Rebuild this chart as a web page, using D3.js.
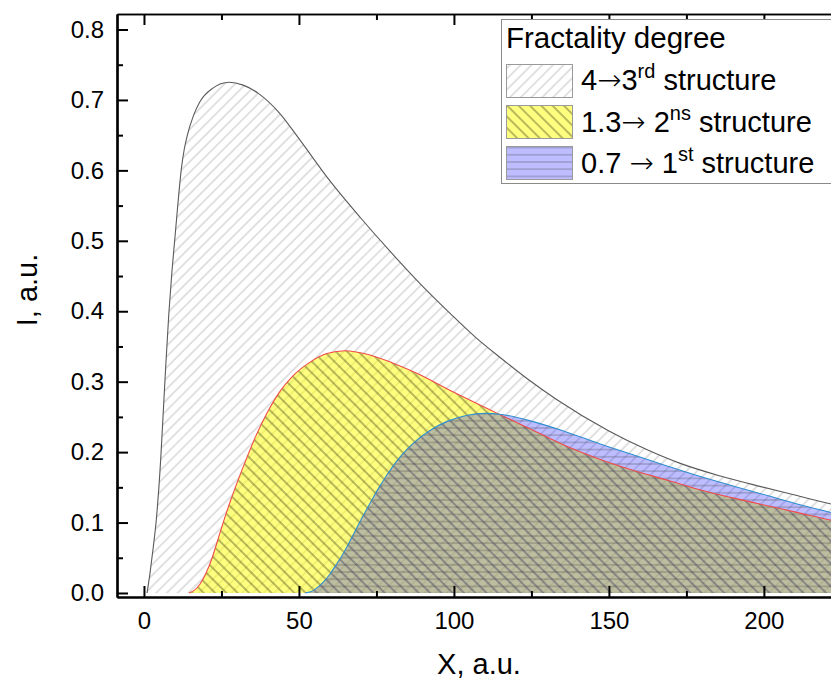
<!DOCTYPE html>
<html>
<head>
<meta charset="utf-8">
<script src="https://cdn.jsdelivr.net/npm/d3@7"></script>
<style>
body { margin: 0; background: #fff; }
text { font-family: "Liberation Sans", Arial, sans-serif; fill: #000; }
</style>
</head>
<body>
<div class="chart"></div>
<script>
// 4 -> 3rd structure
const x3rd = [1, 2, 3, 4, 5.4, 6.2, 7, 8, 9, 10, 11, 12, 13, 14, 16, 18, 22, 27.5, 32, 37, 44, 50, 60, 70, 79, 90, 99, 107, 115, 124, 133, 150, 162, 173, 186, 199, 210, 221, 226]
const y3rd = [0, 0.03, 0.065, 0.105, 0.19, 0.255, 0.32, 0.395, 0.455, 0.505, 0.555, 0.6, 0.63, 0.65, 0.678, 0.697, 0.716, 0.725, 0.721, 0.709, 0.68, 0.645, 0.585, 0.532, 0.487, 0.435, 0.396, 0.363, 0.334, 0.303, 0.275, 0.23, 0.204, 0.184, 0.166, 0.151, 0.139, 0.127, 0.122]
// 1.3 -> 2ns structure
const x2nd = [14.5, 16, 18, 20, 22, 24, 26, 28, 30, 33, 36, 40, 44, 48, 53, 59, 65, 72, 80, 88, 100, 114, 125, 136, 147, 158, 169, 179, 190, 199, 212, 221, 226]
const y2nd = [0, 0.003, 0.012, 0.028, 0.05, 0.078, 0.106, 0.132, 0.156, 0.19, 0.222, 0.258, 0.287, 0.308, 0.326, 0.34, 0.344, 0.339, 0.327, 0.312, 0.285, 0.255, 0.232, 0.209, 0.19, 0.174, 0.16, 0.147, 0.135, 0.126, 0.113, 0.104, 0.1]
// 0.7 -> 1st structure
const x1st = [52, 54, 56, 58, 60, 62, 64, 66, 68, 70, 72, 74, 76, 78, 80, 83, 87, 92, 98, 104, 110, 116, 125, 136, 147, 158, 169, 179, 190, 199, 212, 221, 226]
const y1st = [0, 0.002, 0.008, 0.016, 0.027, 0.04, 0.054, 0.07, 0.087, 0.104, 0.12, 0.136, 0.151, 0.165, 0.178, 0.195, 0.213, 0.23, 0.244, 0.252, 0.255, 0.253, 0.244, 0.229, 0.212, 0.196, 0.18, 0.166, 0.152, 0.141, 0.125, 0.115, 0.11]

const xTicks = [0, 50, 100, 150, 200]
const yTicks = [0, 0.1, 0.2, 0.3, 0.4, 0.5, 0.6, 0.7, 0.8]
const legendTitle = 'Fractality degree'
// [before arrow, arrow, after arrow, superscript, rest]
const legendLabels = [
    ['4', '\u2192', '3', 'rd', ' structure'],
    ['1.3', '\u2192', ' 2', 'ns', ' structure'],
    ['0.7 ', '\u2192', ' 1', 'st', ' structure']
]

const margin = ({top: 14, left: 117})
const width = 725
const height = 583

const svg = d3.select('.chart').append('svg')
    .attr('width', 831)
    .attr('height', 681)
    .style('display', 'block')

const defs = svg.append('defs')

function hatch(id, size, angle, bg, stroke, sw) {
    const p = defs.append('pattern')
        .attr('id', id)
        .attr('patternUnits', 'userSpaceOnUse')
        .attr('width', size)
        .attr('height', size)
        .attr('patternTransform', `rotate(${angle})`)
    p.append('rect').attr('width', size).attr('height', size).attr('fill', bg)
    p.append('line')
        .attr('x1', 0).attr('y1', size / 2).attr('x2', size).attr('y2', size / 2)
        .attr('stroke', stroke).attr('stroke-width', sw)
}
hatch('pat3', 7.6, -45, 'rgba(255,255,255,0)', '#c4c4c4', 1)
hatch('pat2', 8, 45, 'rgba(255,255,0,0.5)', 'rgba(0,0,0,0.55)', 1)
hatch('pat1', 7.2, 0, 'rgba(0,0,255,0.26)', 'rgba(60,60,60,0.42)', 1)

defs.append('clipPath').attr('id', 'clip')
    .append('rect').attr('width', width).attr('height', height)

const g = svg.append('g')
    .attr('transform', `translate(${margin.left},${margin.top})`)

const xScale = d3.scaleLinear().domain([-8.7, 225.2]).range([0, width])
const yScale = d3.scaleLinear().domain([-0.0057, 0.822]).range([height, 0])

const series = [
    {xs: x3rd, ys: y3rd, pat: 'pat3', line: '#5a5a5a'},
    {xs: x2nd, ys: y2nd, pat: 'pat2', line: '#f04a4a'},
    {xs: x1st, ys: y1st, pat: 'pat1', line: '#2f8fd0'}
]

const area = d3.area()
    .x(d => xScale(d[0]))
    .y0(yScale(0))
    .y1(d => yScale(d[1]))
    .curve(d3.curveMonotoneX)
const line = d3.line()
    .x(d => xScale(d[0]))
    .y(d => yScale(d[1]))
    .curve(d3.curveMonotoneX)

const plot = g.append('g').attr('clip-path', 'url(#clip)')

series.forEach(s => {
    const pts = s.xs.map((v, i) => [v, s.ys[i]])
    plot.append('path').datum(pts)
        .attr('d', area)
        .attr('fill', `url(#${s.pat})`)
})
series.forEach(s => {
    const pts = s.xs.map((v, i) => [v, s.ys[i]])
    plot.append('path').datum(pts)
        .attr('d', line)
        .attr('fill', 'none')
        .attr('stroke', s.line)
        .attr('stroke-width', 1.1)
})

// axes, ticks point inside
const xMinor = d3.range(25, 226, 50)
const yMinor = d3.range(0.05, 0.81, 0.1)

const xAxis = d3.axisBottom(xScale).tickValues(xTicks).tickSize(-11).tickSizeOuter(0).tickPadding(15)
const yAxis = d3.axisLeft(yScale).tickValues(yTicks).tickSize(-11).tickSizeOuter(0).tickPadding(13).tickFormat(d3.format('.1f'))

g.append('g').attr('class', 'axis')
    .attr('transform', `translate(0,${height})`)
    .call(xAxis)
g.append('g').attr('class', 'axis')
    .attr('transform', `translate(0,${height})`)
    .call(d3.axisBottom(xScale).tickValues(xMinor).tickSize(-6).tickSizeOuter(0).tickFormat(''))
g.append('g').attr('class', 'axis')
    .call(yAxis)
g.append('g').attr('class', 'axis')
    .call(d3.axisLeft(yScale).tickValues(yMinor).tickSize(-6).tickSizeOuter(0).tickFormat(''))

g.append('g').attr('class', 'axis top')
    .call(d3.axisTop(xScale).tickValues(xTicks).tickSize(-11).tickSizeOuter(0).tickFormat(''))
g.append('g').attr('class', 'axis top')
    .call(d3.axisTop(xScale).tickValues(xMinor).tickSize(-6).tickSizeOuter(0).tickFormat(''))
g.append('g').attr('class', 'axis')
    .attr('transform', `translate(${width},0)`)
    .call(d3.axisRight(yScale).tickValues(yTicks).tickSize(-11).tickSizeOuter(0).tickFormat(''))

g.selectAll('.axis path.domain').attr('stroke', '#000').attr('stroke-width', 2.2)
g.selectAll('.axis.top path.domain').attr('stroke-width', 1.6)
g.selectAll('.axis .tick line').attr('stroke', '#000').attr('stroke-width', 2)
g.selectAll('.axis').attr('font-size', null).attr('font-family', null)
g.selectAll('.axis text')
    .style('font-size', '24px')
    .style('font-family', '"Liberation Sans", Arial, sans-serif')
    .attr('fill', '#000')

// axis titles
svg.append('text')
    .attr('x', 479).attr('y', 674)
    .attr('text-anchor', 'middle')
    .attr('font-size', 29)
    .text('X, a.u.')
svg.append('text')
    .attr('transform', 'translate(37,290) rotate(-90)')
    .attr('text-anchor', 'middle')
    .attr('font-size', 29)
    .text('I, a.u.')

// legend
const lg = svg.append('g')
lg.append('rect')
    .attr('x', 501.5).attr('y', 19.5).attr('width', 400).attr('height', 164)
    .attr('fill', '#fff').attr('stroke', '#8a8a8a').attr('stroke-width', 1)
lg.append('text')
    .attr('x', 506).attr('y', 48)
    .attr('font-size', 29.5)
    .text(legendTitle)

const rowTop = [64, 105, 146]
const rowBase = [90, 132, 173]
const pats = ['pat3', 'pat2', 'pat1']
legendLabels.forEach((lab, i) => {
    lg.append('rect')
        .attr('x', 506.5).attr('y', rowTop[i] + 0.5).attr('width', 66).attr('height', 33)
        .attr('fill', '#fff')
    lg.append('rect')
        .attr('x', 506.5).attr('y', rowTop[i] + 0.5).attr('width', 66).attr('height', 33)
        .attr('fill', `url(#${pats[i]})`).attr('stroke', '#9a9a9a').attr('stroke-width', 1)
    const t = lg.append('text')
        .attr('x', 581).attr('y', rowBase[i])
        .attr('font-size', 29)
    t.append('tspan').text(lab[0])
    t.append('tspan').style('font-family', '"DejaVu Sans", sans-serif').attr('font-size', 29).attr('font-weight', 300).text(lab[1])
    t.append('tspan').text(lab[2])
    t.append('tspan').attr('dy', -12).attr('font-size', 20).text(lab[3])
    t.append('tspan').attr('dy', 12).text(lab[4])
})
</script>
</body>
</html>
